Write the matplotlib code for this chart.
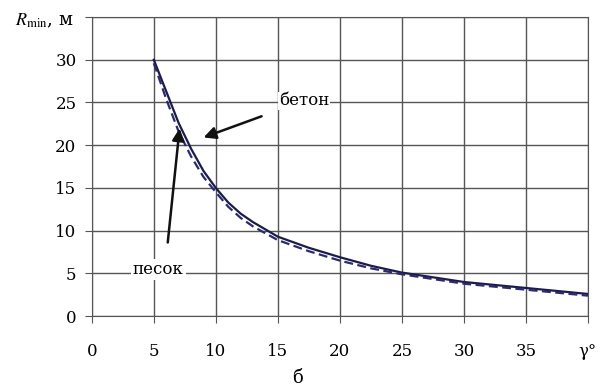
import matplotlib.pyplot as plt

# angle gamma, degrees
gamma = [5, 6, 7, 8, 9, 10, 11, 12, 13, 15, 17.5, 20, 22.5, 25, 30, 35, 40]
# R_min for concrete (solid) and sand (dashed), m
r_beton = [30.0, 26.3, 22.6, 19.6, 17.0, 15.0, 13.3, 12.0, 11.0, 9.3, 8.0, 6.9, 5.9, 5.1, 4.0, 3.3, 2.6]
r_pesok = [29.6, 25.4, 21.6, 18.7, 16.3, 14.5, 12.8, 11.5, 10.5, 8.9, 7.6, 6.5, 5.6, 4.9, 3.8, 3.1, 2.4]

x_ticks = [0, 5, 10, 15, 20, 25, 30, 35, 40]
x_labels = ['0', '5', '10', '15', '20', '25', '30', '35', 'γ°']
y_ticks = [0, 5, 10, 15, 20, 25, 30]

plt.rcParams['font.family'] = ['DejaVu Serif']
plt.rcParams['mathtext.fontset'] = 'stix'

fig = plt.figure(figsize=(6.08, 3.87), dpi=100)
ax = fig.add_axes([0.151, 0.183, 0.816, 0.773])

ax.plot(gamma, r_beton, color='#1c1c4a', lw=1.6, zorder=4)
ax.plot(gamma, r_pesok, color='#2a2a70', lw=1.6, ls=(0, (4, 2)), zorder=4)

ax.set_xlim(0, 40)
ax.set_ylim(0, 35)
ax.set_xticks(x_ticks)
ax.set_xticklabels(x_labels)
ax.set_yticks(y_ticks + [35])
ax.set_yticklabels([str(v) for v in y_ticks] + [''])
ax.grid(True, color='#555555', lw=1.0)
ax.set_axisbelow(True)
for s in ax.spines.values():
    s.set_color('#555555')
ax.tick_params(axis='x', length=5, pad=14, labelsize=12, color='#555555')
ax.tick_params(axis='y', length=5, pad=6, labelsize=12, color='#555555')

# annotations
ax.text(15.1, 25.2, 'бетон', fontsize=12, va='center', ha='left', zorder=5,
        bbox=dict(facecolor='white', edgecolor='none', pad=0.5))
ax.annotate('', xy=(8.8, 20.8), xytext=(13.9, 23.5), zorder=5,
            arrowprops=dict(arrowstyle='-|>', color='#111111', lw=1.8,
                            mutation_scale=18))
ax.text(3.3, 5.5, 'песок', fontsize=12, va='center', ha='left', zorder=5,
        bbox=dict(facecolor='white', edgecolor='none', pad=1.5))
ax.annotate('', xy=(7.1, 22.3), xytext=(6.1, 8.3), zorder=5,
            arrowprops=dict(arrowstyle='-|>', color='#111111', lw=1.8,
                            mutation_scale=18))

fig.text(0.025, 0.945, r'$R_{\mathrm{min}}$, м', fontsize=13, ha='left', va='center')
fig.text(0.49, 0.0, 'б', fontsize=13, ha='center', va='bottom')

fig.savefig('out.png', dpi=100)
